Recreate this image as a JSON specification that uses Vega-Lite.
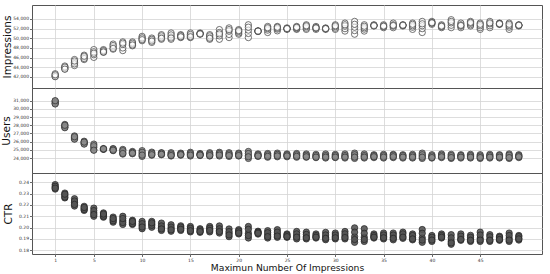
{
  "$schema": "https://vega.github.io/schema/vega-lite/v6.json",
  "padding": {"left": 0, "top": 4, "right": 7, "bottom": 0},
  "spacing": 0,
  "bounds": "flush",
  "datasets": {
    "d": [
      {"x":1,"i":42100,"u":30950,"c":0.2355},{"x":1,"i":42650,"u":30650,"c":0.2340},{"x":1,"i":42300,"u":30800,"c":0.2380},{"x":1,"i":42050,"u":30600,"c":0.2365},{"x":1,"i":42450,"u":31000,"c":0.2348},
      {"x":2,"i":43650,"u":27750,"c":0.2305},{"x":2,"i":44250,"u":28100,"c":0.2262},{"x":2,"i":43900,"u":27900,"c":0.2285},{"x":2,"i":44050,"u":27700,"c":0.2270},{"x":2,"i":43600,"u":28000,"c":0.2295},
      {"x":3,"i":44350,"u":26350,"c":0.2190},{"x":3,"i":45600,"u":26700,"c":0.2255},{"x":3,"i":45000,"u":26500,"c":0.2220},{"x":3,"i":44700,"u":26300,"c":0.2235},{"x":3,"i":45300,"u":26600,"c":0.2205},
      {"x":4,"i":45600,"u":25750,"c":0.2152},{"x":4,"i":46500,"u":26050,"c":0.2188},{"x":4,"i":46100,"u":25900,"c":0.2170},{"x":4,"i":45800,"u":25700,"c":0.2160},{"x":4,"i":46300,"u":25950,"c":0.2178},
      {"x":5,"i":46050,"u":25000,"c":0.2100},{"x":5,"i":47650,"u":25700,"c":0.2172},{"x":5,"i":46600,"u":25300,"c":0.2130},{"x":5,"i":47200,"u":25500,"c":0.2150},{"x":5,"i":46900,"u":24950,"c":0.2115},
      {"x":6,"i":47100,"u":25080,"c":0.2092},{"x":6,"i":47650,"u":25150,"c":0.2130},{"x":6,"i":47300,"u":25100,"c":0.2110},{"x":6,"i":47450,"u":25060,"c":0.2100},{"x":6,"i":47150,"u":25120,"c":0.2120},
      {"x":7,"i":47750,"u":24900,"c":0.2048},{"x":7,"i":48800,"u":25150,"c":0.2093},{"x":7,"i":48200,"u":25000,"c":0.2070},{"x":7,"i":48500,"u":25100,"c":0.2060},{"x":7,"i":47900,"u":24950,"c":0.2080},
      {"x":8,"i":47450,"u":24480,"c":0.2028},{"x":8,"i":49250,"u":25050,"c":0.2100},{"x":8,"i":48000,"u":24700,"c":0.2060},{"x":8,"i":48700,"u":24900,"c":0.2045},{"x":8,"i":49000,"u":24550,"c":0.2080},
      {"x":9,"i":48450,"u":24520,"c":0.2028},{"x":9,"i":49250,"u":24800,"c":0.2065},{"x":9,"i":48800,"u":24650,"c":0.2045},{"x":9,"i":49000,"u":24700,"c":0.2035},{"x":9,"i":48600,"u":24580,"c":0.2055},
      {"x":10,"i":49500,"u":24200,"c":0.1990},{"x":10,"i":50400,"u":24900,"c":0.2055},{"x":10,"i":49900,"u":24500,"c":0.2020},{"x":10,"i":50100,"u":24700,"c":0.2035},{"x":10,"i":49700,"u":24350,"c":0.2005},
      {"x":11,"i":49150,"u":24350,"c":0.2003},{"x":11,"i":50050,"u":24720,"c":0.2055},{"x":11,"i":49600,"u":24500,"c":0.2030},{"x":11,"i":49800,"u":24600,"c":0.2020},{"x":11,"i":49400,"u":24400,"c":0.2042},
      {"x":12,"i":49800,"u":24400,"c":0.1975},{"x":12,"i":50750,"u":24650,"c":0.2040},{"x":12,"i":50200,"u":24500,"c":0.2000},{"x":12,"i":50500,"u":24600,"c":0.2015},{"x":12,"i":50000,"u":24450,"c":0.1988},
      {"x":13,"i":49800,"u":24250,"c":0.1968},{"x":13,"i":51100,"u":24650,"c":0.2025},{"x":13,"i":50300,"u":24400,"c":0.1990},{"x":13,"i":50700,"u":24500,"c":0.2005},{"x":13,"i":50050,"u":24300,"c":0.1980},
      {"x":14,"i":50150,"u":24350,"c":0.1975},{"x":14,"i":50750,"u":24600,"c":0.2016},{"x":14,"i":50400,"u":24450,"c":0.1995},{"x":14,"i":50600,"u":24500,"c":0.2005},{"x":14,"i":50300,"u":24400,"c":0.1985},
      {"x":15,"i":50150,"u":24250,"c":0.1962},{"x":15,"i":51100,"u":24700,"c":0.2010},{"x":15,"i":50500,"u":24450,"c":0.1985},{"x":15,"i":50800,"u":24550,"c":0.1995},{"x":15,"i":50300,"u":24350,"c":0.1972},
      {"x":16,"i":50850,"u":24300,"c":0.1958},{"x":16,"i":51100,"u":24550,"c":0.1990},{"x":16,"i":50950,"u":24400,"c":0.1970},{"x":16,"i":51000,"u":24450,"c":0.1980},{"x":16,"i":50900,"u":24350,"c":0.1965},
      {"x":17,"i":49800,"u":24250,"c":0.1962},{"x":17,"i":50750,"u":24650,"c":0.2010},{"x":17,"i":50200,"u":24400,"c":0.1985},{"x":17,"i":50500,"u":24500,"c":0.1995},{"x":17,"i":50000,"u":24300,"c":0.1975},
      {"x":18,"i":49800,"u":24250,"c":0.1952},{"x":18,"i":51800,"u":24700,"c":0.2015},{"x":18,"i":50500,"u":24450,"c":0.1975},{"x":18,"i":51200,"u":24550,"c":0.1990},{"x":18,"i":50900,"u":24350,"c":0.1965},
      {"x":19,"i":50150,"u":24200,"c":0.1920},{"x":19,"i":52150,"u":24650,"c":0.1988},{"x":19,"i":50800,"u":24400,"c":0.1950},{"x":19,"i":51500,"u":24500,"c":0.1965},{"x":19,"i":51800,"u":24300,"c":0.1935},
      {"x":20,"i":50850,"u":24250,"c":0.1944},{"x":20,"i":51800,"u":24600,"c":0.1982},{"x":20,"i":51100,"u":24400,"c":0.1960},{"x":20,"i":51400,"u":24500,"c":0.1970},{"x":20,"i":51600,"u":24300,"c":0.1952},
      {"x":21,"i":50150,"u":23950,"c":0.1908},{"x":21,"i":52800,"u":24800,"c":0.2010},{"x":21,"i":51000,"u":24300,"c":0.1950},{"x":21,"i":51700,"u":24550,"c":0.1985},{"x":21,"i":52300,"u":24150,"c":0.1930},
      {"x":22,"i":51400,"u":24200,"c":0.1943},{"x":22,"i":51550,"u":24500,"c":0.1968},{"x":22,"i":51450,"u":24300,"c":0.1955},{"x":22,"i":51500,"u":24400,"c":0.1960},{"x":22,"i":51480,"u":24250,"c":0.1950},
      {"x":23,"i":51200,"u":24100,"c":0.1908},{"x":23,"i":52450,"u":24550,"c":0.1973},{"x":23,"i":51700,"u":24300,"c":0.1935},{"x":23,"i":52000,"u":24400,"c":0.1955},{"x":23,"i":52200,"u":24200,"c":0.1920},
      {"x":24,"i":51550,"u":24150,"c":0.1914},{"x":24,"i":52450,"u":24600,"c":0.1982},{"x":24,"i":51900,"u":24350,"c":0.1940},{"x":24,"i":52100,"u":24450,"c":0.1960},{"x":24,"i":52300,"u":24250,"c":0.1925},
      {"x":25,"i":51850,"u":24150,"c":0.1914},{"x":25,"i":52150,"u":24500,"c":0.1944},{"x":25,"i":51950,"u":24300,"c":0.1925},{"x":25,"i":52050,"u":24400,"c":0.1935},{"x":25,"i":52000,"u":24250,"c":0.1920},
      {"x":26,"i":51850,"u":24100,"c":0.1900},{"x":26,"i":52450,"u":24550,"c":0.1966},{"x":26,"i":52000,"u":24300,"c":0.1925},{"x":26,"i":52200,"u":24400,"c":0.1945},{"x":26,"i":52300,"u":24200,"c":0.1915},
      {"x":27,"i":51850,"u":24100,"c":0.1900},{"x":27,"i":52800,"u":24500,"c":0.1960},{"x":27,"i":52100,"u":24250,"c":0.1920},{"x":27,"i":52400,"u":24350,"c":0.1940},{"x":27,"i":52600,"u":24150,"c":0.1910},
      {"x":28,"i":51850,"u":24050,"c":0.1908},{"x":28,"i":52450,"u":24450,"c":0.1944},{"x":28,"i":52050,"u":24200,"c":0.1920},{"x":28,"i":52250,"u":24300,"c":0.1930},{"x":28,"i":52150,"u":24100,"c":0.1915},
      {"x":29,"i":51850,"u":24000,"c":0.1893},{"x":29,"i":52150,"u":24500,"c":0.1958},{"x":29,"i":51950,"u":24200,"c":0.1915},{"x":29,"i":52050,"u":24300,"c":0.1935},{"x":29,"i":52000,"u":24100,"c":0.1905},
      {"x":30,"i":51850,"u":24050,"c":0.1900},{"x":30,"i":52800,"u":24450,"c":0.1952},{"x":30,"i":52100,"u":24200,"c":0.1920},{"x":30,"i":52400,"u":24300,"c":0.1935},{"x":30,"i":52600,"u":24100,"c":0.1910},
      {"x":31,"i":51500,"u":24000,"c":0.1900},{"x":31,"i":53150,"u":24500,"c":0.1966},{"x":31,"i":52000,"u":24200,"c":0.1925},{"x":31,"i":52500,"u":24300,"c":0.1945},{"x":31,"i":52800,"u":24100,"c":0.1912},
      {"x":32,"i":50850,"u":23950,"c":0.1870},{"x":32,"i":53500,"u":24600,"c":0.1998},{"x":32,"i":51600,"u":24200,"c":0.1920},{"x":32,"i":52300,"u":24400,"c":0.1960},{"x":32,"i":52900,"u":24100,"c":0.1895},
      {"x":33,"i":51500,"u":24000,"c":0.1878},{"x":33,"i":52800,"u":24500,"c":0.1990},{"x":33,"i":51900,"u":24200,"c":0.1915},{"x":33,"i":52200,"u":24300,"c":0.1950},{"x":33,"i":52500,"u":24100,"c":0.1895},
      {"x":34,"i":52550,"u":24050,"c":0.1908},{"x":34,"i":52800,"u":24400,"c":0.1944},{"x":34,"i":52650,"u":24200,"c":0.1920},{"x":34,"i":52700,"u":24300,"c":0.1930},{"x":34,"i":52600,"u":24150,"c":0.1915},
      {"x":35,"i":52200,"u":24000,"c":0.1900},{"x":35,"i":52800,"u":24450,"c":0.1952},{"x":35,"i":52400,"u":24200,"c":0.1920},{"x":35,"i":52600,"u":24300,"c":0.1935},{"x":35,"i":52500,"u":24100,"c":0.1910},
      {"x":36,"i":52200,"u":24050,"c":0.1892},{"x":36,"i":53150,"u":24450,"c":0.1952},{"x":36,"i":52500,"u":24250,"c":0.1915},{"x":36,"i":52800,"u":24350,"c":0.1935},{"x":36,"i":52650,"u":24150,"c":0.1905},
      {"x":37,"i":52550,"u":24000,"c":0.1905},{"x":37,"i":52800,"u":24400,"c":0.1960},{"x":37,"i":52650,"u":24200,"c":0.1925},{"x":37,"i":52750,"u":24300,"c":0.1945},{"x":37,"i":52700,"u":24100,"c":0.1915},
      {"x":38,"i":51850,"u":24000,"c":0.1892},{"x":38,"i":53150,"u":24450,"c":0.1944},{"x":38,"i":52300,"u":24200,"c":0.1910},{"x":38,"i":52600,"u":24300,"c":0.1930},{"x":38,"i":52900,"u":24100,"c":0.1900},
      {"x":39,"i":51200,"u":23950,"c":0.1870},{"x":39,"i":53500,"u":24600,"c":0.1983},{"x":39,"i":52000,"u":24250,"c":0.1910},{"x":39,"i":52600,"u":24400,"c":0.1950},{"x":39,"i":53000,"u":24100,"c":0.1890},
      {"x":40,"i":52900,"u":24000,"c":0.1878},{"x":40,"i":53500,"u":24400,"c":0.1930},{"x":40,"i":53100,"u":24150,"c":0.1900},{"x":40,"i":53300,"u":24250,"c":0.1915},{"x":40,"i":53200,"u":24050,"c":0.1890},
      {"x":41,"i":52200,"u":24050,"c":0.1908},{"x":41,"i":52800,"u":24500,"c":0.1944},{"x":41,"i":52400,"u":24250,"c":0.1920},{"x":41,"i":52600,"u":24350,"c":0.1930},{"x":41,"i":52500,"u":24150,"c":0.1915},
      {"x":42,"i":52200,"u":23950,"c":0.1853},{"x":42,"i":53850,"u":24450,"c":0.1938},{"x":42,"i":52700,"u":24150,"c":0.1880},{"x":42,"i":53200,"u":24300,"c":0.1910},{"x":42,"i":53500,"u":24050,"c":0.1865},
      {"x":43,"i":52200,"u":24000,"c":0.1888},{"x":43,"i":53150,"u":24400,"c":0.1944},{"x":43,"i":52500,"u":24200,"c":0.1905},{"x":43,"i":52800,"u":24300,"c":0.1925},{"x":43,"i":52650,"u":24100,"c":0.1895},
      {"x":44,"i":52550,"u":24000,"c":0.1878},{"x":44,"i":53500,"u":24450,"c":0.1932},{"x":44,"i":52800,"u":24200,"c":0.1895},{"x":44,"i":53100,"u":24300,"c":0.1915},{"x":44,"i":53300,"u":24100,"c":0.1888},
      {"x":45,"i":51850,"u":23950,"c":0.1878},{"x":45,"i":53150,"u":24400,"c":0.1960},{"x":45,"i":52200,"u":24150,"c":0.1905},{"x":45,"i":52600,"u":24250,"c":0.1935},{"x":45,"i":52900,"u":24050,"c":0.1890},
      {"x":46,"i":52200,"u":24000,"c":0.1878},{"x":46,"i":53500,"u":24450,"c":0.1938},{"x":46,"i":52600,"u":24200,"c":0.1895},{"x":46,"i":53000,"u":24300,"c":0.1920},{"x":46,"i":53200,"u":24100,"c":0.1888},
      {"x":47,"i":52880,"u":24000,"c":0.1888},{"x":47,"i":53150,"u":24400,"c":0.1924},{"x":47,"i":52950,"u":24150,"c":0.1900},{"x":47,"i":53050,"u":24300,"c":0.1915},{"x":47,"i":53000,"u":24100,"c":0.1895},
      {"x":48,"i":51850,"u":23950,"c":0.1878},{"x":48,"i":53150,"u":24500,"c":0.1952},{"x":48,"i":52300,"u":24200,"c":0.1905},{"x":48,"i":52600,"u":24350,"c":0.1930},{"x":48,"i":52900,"u":24050,"c":0.1890},
      {"x":49,"i":52550,"u":24050,"c":0.1890},{"x":49,"i":52800,"u":24400,"c":0.1930},{"x":49,"i":52650,"u":24200,"c":0.1905},{"x":49,"i":52750,"u":24300,"c":0.1920},{"x":49,"i":52700,"u":24150,"c":0.1900}
    ]
  },
  "data": {"name": "d"},
  "config": {
    "font": "DejaVu Sans",
    "view": {"stroke": "#555555", "strokeWidth": 1},
    "axis": {
      "labelFont": "DejaVu Sans",
      "titleFont": "DejaVu Sans",
      "labelFontSize": 4.5,
      "labelColor": "#333333",
      "titleFontSize": 10.5,
      "titleFontWeight": "normal",
      "titleColor": "#111111",
      "gridColor": "#d4d4d4",
      "gridWidth": 0.8,
      "tickColor": "#444444",
      "tickSize": 2.5,
      "tickWidth": 0.8,
      "domain": false,
      "labelPadding": 1
    }
  },
  "vconcat": [
    {
      "width": 510,
      "height": 83,
      "mark": {"type": "circle", "size": 40, "fill": "#ffffff", "fillOpacity": 0.6, "stroke": "#3a3a3a", "strokeWidth": 0.7, "opacity": 1},
      "encoding": {
        "x": {"field": "x", "type": "quantitative",
              "scale": {"domain": [-1.4, 51.4], "nice": false, "zero": false},
              "axis": {"values": [1, 5, 10, 15, 20, 25, 30, 35, 40, 45], "labels": false, "ticks": false, "title": null}},
        "y": {"field": "i", "type": "quantitative",
              "scale": {"domain": [39700, 56900], "nice": false, "zero": false},
              "axis": {"values": [42000, 44000, 46000, 48000, 50000, 52000, 54000], "format": ",.0f", "title": "Impressions", "titleX": -20}}
      }
    },
    {
      "width": 510,
      "height": 85,
      "mark": {"type": "circle", "size": 40, "fill": "#8c8c8c", "fillOpacity": 0.85, "stroke": "#2e2e2e", "strokeWidth": 0.7, "opacity": 1},
      "encoding": {
        "x": {"field": "x", "type": "quantitative",
              "scale": {"domain": [-1.4, 51.4], "nice": false, "zero": false},
              "axis": {"values": [1, 5, 10, 15, 20, 25, 30, 35, 40, 45], "labels": false, "ticks": false, "title": null}},
        "y": {"field": "u", "type": "quantitative",
              "scale": {"domain": [22170, 32550], "nice": false, "zero": false},
              "axis": {"values": [24000, 25000, 26000, 27000, 28000, 29000, 30000, 31000], "format": ",.0f", "title": "Users", "titleX": -21}}
      }
    },
    {
      "width": 510,
      "height": 81,
      "mark": {"type": "circle", "size": 40, "fill": "#555555", "fillOpacity": 0.9, "stroke": "#222222", "strokeWidth": 0.7, "opacity": 1},
      "encoding": {
        "x": {"field": "x", "type": "quantitative",
              "scale": {"domain": [-1.4, 51.4], "nice": false, "zero": false},
              "axis": {"values": [1, 5, 10, 15, 20, 25, 30, 35, 40, 45], "format": "d", "title": "Maximun Number Of Impressions", "titleFontSize": 9.2, "titlePadding": 1, "labelPadding": 1}},
        "y": {"field": "c", "type": "quantitative",
              "scale": {"domain": [0.1767, 0.2482], "nice": false, "zero": false},
              "axis": {"values": [0.18, 0.19, 0.2, 0.21, 0.22, 0.23, 0.24], "format": ".2f", "title": "CTR", "titleX": -19}}
      }
    }
  ]
}
